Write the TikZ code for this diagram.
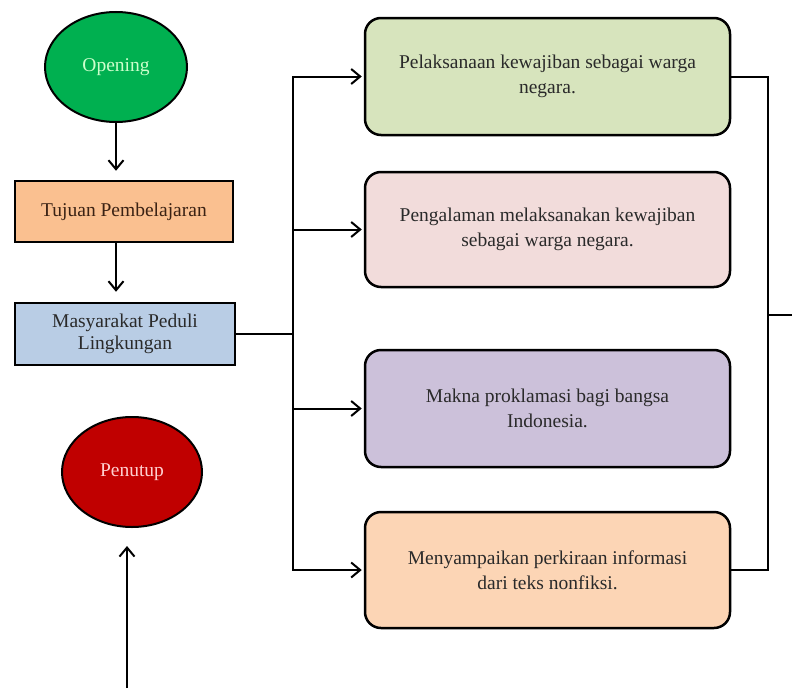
\documentclass[tikz,border=0pt]{standalone}
\usepackage{fontspec}
\setmainfont{Liberation Serif}
\usetikzlibrary{shapes.geometric,arrows.meta}
\definecolor{cOpen}{HTML}{00B050}
\definecolor{cOpenTxt}{HTML}{CCFFCC}
\definecolor{cClose}{HTML}{C00000}
\definecolor{cCloseTxt}{HTML}{FFD0D0}
\definecolor{cTujuan}{HTML}{FAC090}
\definecolor{cMasy}{HTML}{B9CDE5}
\definecolor{cGreen}{HTML}{D7E4BD}
\definecolor{cPink}{HTML}{F2DCDB}
\definecolor{cPurple}{HTML}{CCC1DA}
\definecolor{cOrange}{HTML}{FCD5B5}
\definecolor{cTxt}{HTML}{2A2A2A}
\definecolor{cBrown}{HTML}{3A2214}
\begin{document}
\begin{tikzpicture}[x=1pt,y=-1pt,
  txt/.style={font=\fontsize{19.5}{25}\selectfont, text=cTxt, align=center},
  oval/.style={ellipse, draw=black, line width=2pt, inner sep=0pt, txt},
  sqbox/.style={rectangle, draw=black, line width=2.5pt, inner sep=0pt, txt, font=\fontsize{19.5}{22}\selectfont},
  rbox/.style={rectangle, rounded corners=16pt, draw=black, line width=2.5pt, inner sep=0pt, txt,
     minimum width=365pt},
  conn/.style={draw=black, line width=2pt},
  arr/.style={conn, -{Straight Barb[length=9pt,width=15pt,line width=2pt]}}
]
\useasboundingbox (0,0) rectangle (792,688);
\fill[white] (0,0) rectangle (792,688);

% left column
\node[oval, fill=cOpen, text=cOpenTxt, minimum width=142pt, minimum height=110pt] (open) at (116,67) {Opening};
\node[sqbox, fill=cTujuan, text=cBrown, minimum width=218pt, minimum height=61pt] (tuj) at (124,211.5) {Tujuan Pembelajaran};
\node[sqbox, fill=cMasy, text=cTxt, minimum width=220pt, minimum height=62pt] (masy) at (125,334) {Masyarakat Peduli\\Lingkungan};
\node[oval, fill=cClose, text=cCloseTxt, minimum width=140pt, minimum height=110pt] (pen) at (132,472) {Penutup};

% right column
\node[rbox, fill=cGreen, minimum height=117pt] (b1) at (547.5,76.5) {Pelaksanaan kewajiban sebagai warga\\negara.};
\node[rbox, fill=cPink, minimum height=115pt] (b2) at (547.5,229.5) {Pengalaman melaksanakan kewajiban\\sebagai warga negara.};
\node[rbox, fill=cPurple, minimum height=117pt] (b3) at (547.5,408.5) {Makna proklamasi bagi bangsa\\Indonesia.};
\node[rbox, fill=cOrange, minimum height=116pt] (b4) at (547.5,570) {Menyampaikan perkiraan informasi\\dari teks nonfiksi.};

% helper coordinates
\coordinate (spine) at (293,334);
\coordinate (rspine) at (768,315);
\coordinate (rexit) at (792,315);
\coordinate (pbot) at (127,688);

% left flow
\draw[arr, shorten >=9pt] (open.south) -- (open.south |- tuj.north);
\draw[arr, shorten >=10pt] (open.south |- tuj.south) -- (open.south |- masy.north);
\draw[arr, shorten >=18pt] (pbot) -- (pbot |- pen.south);

% branching spine
\draw[conn] (masy.east) -- (spine);
\draw[conn, line cap=rect] (spine |- b1.west) -- (spine |- b4.west);
\draw[arr, shorten >=2pt] (spine |- b1.west) -- (b1.west);
\draw[arr, shorten >=2pt] (spine |- b2.west) -- (b2.west);
\draw[arr, shorten >=2pt] (spine |- b3.west) -- (b3.west);
\draw[arr, shorten >=2pt] (spine |- b4.west) -- (b4.west);

% right collector
\draw[conn] (b1.east) -- (rspine |- b1.east) -- (rspine |- b4.east) -- (b4.east);
\draw[conn] (rspine) -- (rexit);
\end{tikzpicture}
\end{document}
